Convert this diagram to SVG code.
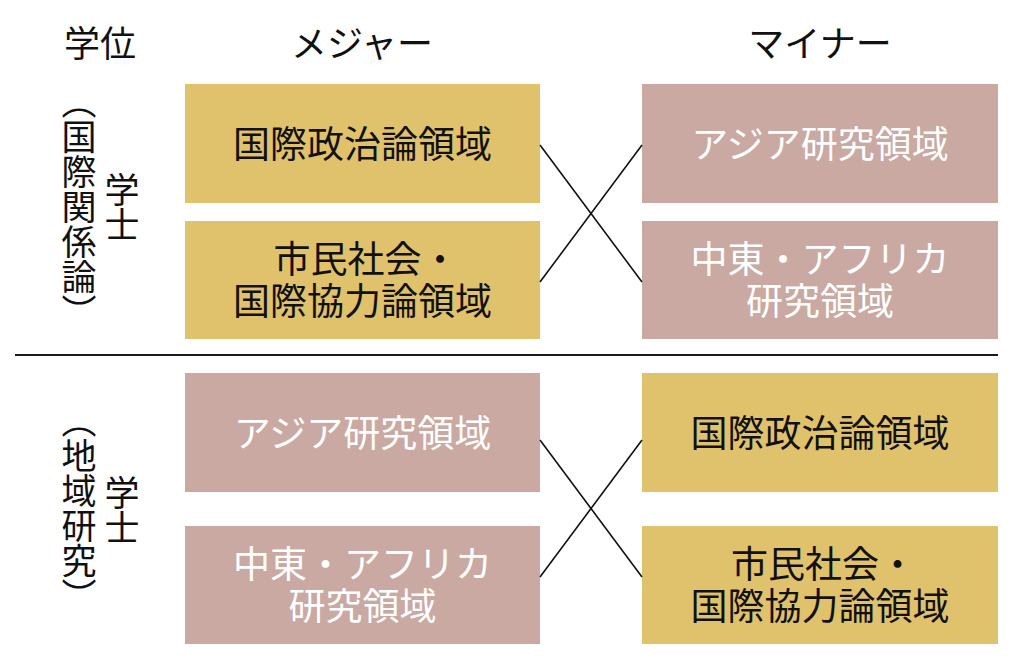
<svg xmlns="http://www.w3.org/2000/svg" width="1024" height="666" viewBox="0 0 1024 666">
<style>
text{font-family:"Noto Sans CJK JP","Noto Sans CJK SC",sans-serif;font-weight:400}
.t{font-size:36px;fill:#111;text-anchor:middle}
.g{fill:#E0C16C}
.p{fill:#C9A9A2}
.dk{font-size:37px;fill:#111;text-anchor:middle}
.wt{font-size:37px;fill:#fff;text-anchor:middle}
.v{font-size:35px;fill:#111;writing-mode:vertical-rl;text-anchor:middle}
.c{stroke:#111;stroke-width:1.6;fill:none}
</style>
<rect width="1024" height="666" fill="#fff"/>
<g id="headers">
<text class="t" x="100" y="57">学位</text>
<text class="t" x="362" y="57">メジャー</text>
<text class="t" x="820" y="57">マイナー</text>
</g>
<g id="degree1">
<text class="v" x="79" y="207">（国際関係論）</text>
<text class="v" x="122" y="207">学士</text>
</g>
<g id="degree2">
<text class="v" x="79" y="508">（地域研究）</text>
<text class="v" x="122" y="510">学士</text>
</g>
<line x1="15" y1="355" x2="998" y2="355" stroke="#1a1a1a" stroke-width="2"/>
<g id="major1a"><rect class="g" x="185" y="84" width="355" height="119"/><text class="dk" x="362.5" y="157.5">国際政治論領域</text></g>
<g id="major1b"><rect class="g" x="185" y="221" width="355" height="118"/><text class="dk"><tspan x="366" y="273">市民社会・</tspan><tspan x="362.5" y="315">国際協力論領域</tspan></text></g>
<g id="minor1a"><rect class="p" x="642" y="84" width="356" height="119"/><text class="wt" x="820" y="157.5">アジア研究領域</text></g>
<g id="minor1b"><rect class="p" x="642" y="221" width="356" height="118"/><text class="wt"><tspan x="820" y="273">中東・アフリカ</tspan><tspan x="820" y="315">研究領域</tspan></text></g>
<g id="major2a"><rect class="p" x="185" y="373" width="355" height="119"/><text class="wt" x="362.5" y="446.5">アジア研究領域</text></g>
<g id="major2b"><rect class="p" x="185" y="526" width="355" height="118"/><text class="wt"><tspan x="362.5" y="578">中東・アフリカ</tspan><tspan x="362.5" y="620">研究領域</tspan></text></g>
<g id="minor2a"><rect class="g" x="642" y="373" width="356" height="119"/><text class="dk" x="820" y="446.5">国際政治論領域</text></g>
<g id="minor2b"><rect class="g" x="642" y="526" width="356" height="118"/><text class="dk"><tspan x="823.5" y="578">市民社会・</tspan><tspan x="820" y="620">国際協力論領域</tspan></text></g>
<g id="connectors">
<line class="c" x1="540" y1="145" x2="642" y2="282"/>
<line class="c" x1="540" y1="282" x2="642" y2="145"/>
<line class="c" x1="540" y1="440" x2="642" y2="577"/>
<line class="c" x1="540" y1="577" x2="642" y2="440"/>
</g>
</svg>
